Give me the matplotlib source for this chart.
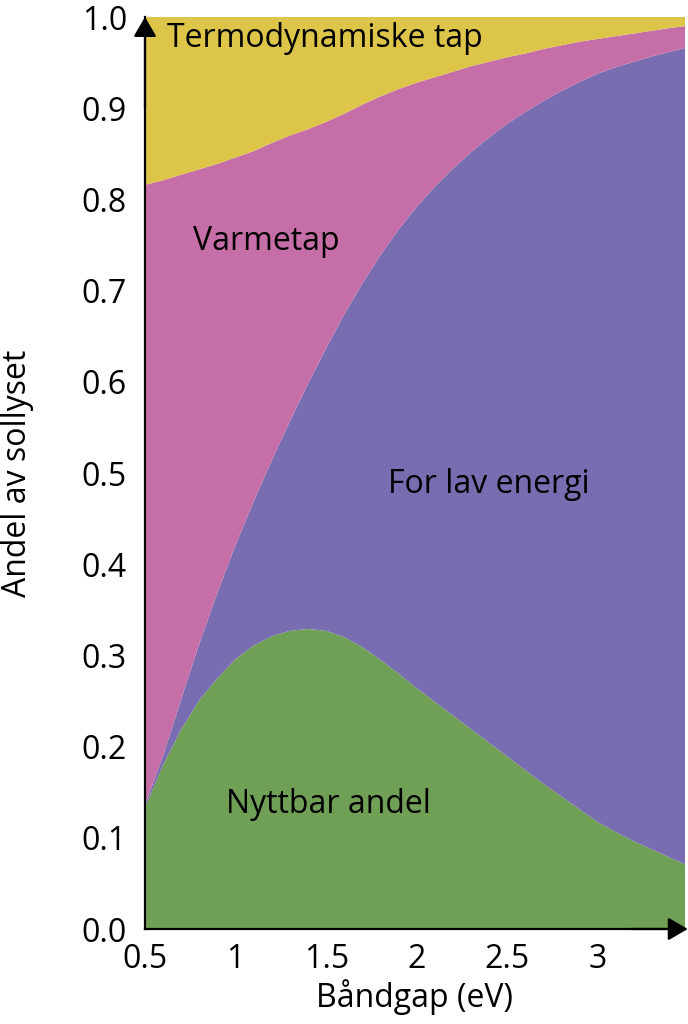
import matplotlib
matplotlib.use("Agg")
import matplotlib.pyplot as plt

plt.rcParams['font.family'] = ['Open Sans', 'DejaVu Sans']

# Band gap (eV)
bandgap = [0.5, 0.6, 0.7, 0.8, 0.9, 1.0, 1.1, 1.2, 1.3, 1.4, 1.5, 1.6, 1.7, 1.8, 1.9,
           2.0, 2.1, 2.2, 2.3, 2.4, 2.5, 2.6, 2.7, 2.8, 2.9, 3.0, 3.1, 3.2, 3.3, 3.4, 3.48]

# Fractions of sunlight (stacked from bottom)
nyttbar = [.133, .180, .219, .251, .275, .296, .311, .321, .327, .329, .327, .320, .309, .295, .280,
           .264, .249, .234, .219, .204, .189, .174, .159, .145, .131, .117, .106, .096, .087, .078, .071]
for_lav = [.003, .010, .033, .062, .094, .125, .158, .193, .230, .269, .310, .354, .399, .444, .487,
           .528, .565, .600, .633, .664, .694, .722, .749, .774, .798, .821, .839, .855, .870, .884, .895]
varmetap = [.680, .631, .575, .520, .470, .425, .384, .348, .313, .279, .248, .220, .196, .174, .154,
            .136, .120, .106, .094, .083, .073, .064, .057, .050, .044, .038, .034, .031, .028, .026, .024]
termo = [.184, .179, .173, .167, .161, .154, .147, .138, .130, .123, .115, .106, .096, .087, .079,
         .072, .066, .060, .054, .049, .044, .040, .035, .031, .027, .024, .021, .018, .015, .012, .010]

labels = ["Nyttbar andel", "For lav energi", "Varmetap", "Termodynamiske tap"]
colors = ["#70a056", "#786db0", "#c66ea8", "#dcc548"]

xticks = [0.5, 1, 1.5, 2, 2.5, 3]
xticklabels = ["0.5", "1", "1.5", "2", "2.5", "3"]
yticks = [0.0, 0.1, 0.2, 0.3, 0.4, 0.5, 0.6, 0.7, 0.8, 0.9, 1.0]

FS = 23

fig = plt.figure(figsize=(6.88, 10.24), dpi=100)
ax = fig.add_axes([145/688, 95/1024, 540/688, 912/1024])

ax.stackplot(bandgap, nyttbar, for_lav, varmetap, termo, colors=colors, linewidth=0, edgecolor='none')

ax.set_xlim(0.5, 3.48)
ax.set_ylim(0, 1.0)

for s in ['top', 'right']:
    ax.spines[s].set_visible(False)
for s in ['left', 'bottom']:
    ax.spines[s].set_linewidth(1.6)
    ax.spines[s].set_zorder(5)

arrow_style = dict(arrowstyle='-|>,head_length=0.6,head_width=0.35', mutation_scale=20,
                   color='k', lw=1.6, shrinkA=0, shrinkB=0)
ax.annotate('', xy=(1.005, 0), xytext=(0.9, 0), xycoords='axes fraction',
            arrowprops=arrow_style, annotation_clip=False, zorder=6)
ax.annotate('', xy=(0, 1.0), xytext=(0, 0.9), xycoords='axes fraction',
            arrowprops=arrow_style, annotation_clip=False, zorder=6)

ax.set_xticks(xticks)
ax.set_xticklabels(xticklabels)
ax.set_yticks(yticks)
ax.set_yticklabels([f"{v:.1f}" for v in yticks])
ax.tick_params(axis='both', length=0, labelsize=FS)
ax.tick_params(axis='y', pad=13)
ax.tick_params(axis='x', pad=10)

ax.set_xlabel("Båndgap (eV)", fontsize=FS, labelpad=2)
ax.set_ylabel("Andel av sollyset", fontsize=FS)
ax.yaxis.set_label_coords(-0.205, 0.5)

ax.text(1.49, 0.976, labels[3], fontsize=FS, ha='center', va='center')
ax.text(1.17, 0.754, labels[2], fontsize=FS, ha='center', va='center')
ax.text(2.40, 0.487, labels[1], fontsize=FS, ha='center', va='center')
ax.text(1.51, 0.136, labels[0], fontsize=FS, ha='center', va='center')

fig.savefig("out.png", dpi=100)
